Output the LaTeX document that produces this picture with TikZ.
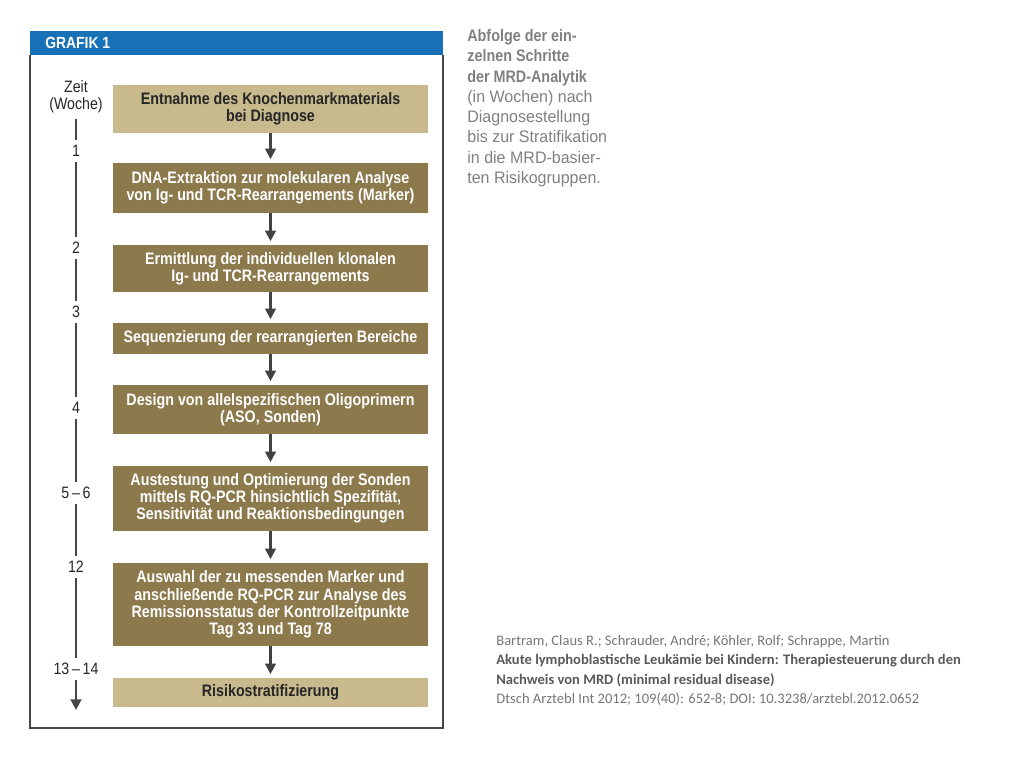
\documentclass[tikz,border=0pt]{standalone}
\usepackage{fontspec}
\setmainfont{Liberation Sans}
\newfontfamily\condfont[FakeStretch=0.86]{Liberation Sans}
\newfontfamily\legfont[FakeStretch=0.96]{Liberation Sans}
\newfontfamily\citefont{Carlito}
\usetikzlibrary{arrows.meta}
\definecolor{grafikblau}{RGB}{24,113,183}
\definecolor{hellbraun}{RGB}{200,186,140}
\definecolor{dunkelbraun}{RGB}{140,121,76}
\definecolor{pfeilgrau}{RGB}{66,66,66}
\definecolor{rahmengrau}{RGB}{70,70,70}
\definecolor{textgrau}{RGB}{128,128,128}
\definecolor{citegrau}{RGB}{118,118,118}

\begin{document}
\begin{tikzpicture}[x=0.02cm, y=-0.02cm, >={Triangle[length=6pt,width=6pt]},
  schritt/.style={fill=dunkelbraun, text=white, inner sep=0pt, align=center,
    minimum width=6.3cm, font=\condfont\bfseries\fontsize{9.45}{9.8}\selectfont},
  hellschritt/.style={schritt, fill=hellbraun, text=black!85},
  woche/.style={inner sep=1pt, outer sep=2pt, align=center,
    font=\condfont\fontsize{9.4}{9.8}\selectfont, text=black!85},
  pfeil/.style={->, line width=1.4pt, pfeilgrau, shorten >=2pt},
  zeitlinie/.style={line width=1.7pt, rahmengrau}]
  \useasboundingbox (0,0) rectangle (1024,768);
  % Rahmen mit Kopfzeile
  \fill[grafikblau] (30,31) rectangle (443,55);
  \draw[line width=0.9pt, rahmengrau] (30,55) -- (30,728) -- (443,728) -- (443,55);
  \node[anchor=west, inner sep=0pt, text=white,
    font=\condfont\bfseries\fontsize{9.2}{11}\selectfont] (titel) at (45,43) {GRAFIK 1};
  % Schritte
  \node[hellschritt, minimum height=0.96cm] (s1) at (270.5,109)
    {Entnahme des Knochenmarkmaterials\\bei Diagnose};
  \node[schritt, minimum height=1.0cm] (s2) at (270.5,188)
    {DNA-Extraktion zur molekularen Analyse\\von Ig- und TCR-Rearrangements (Marker)};
  \node[schritt, minimum height=0.94cm] (s3) at (270.5,268.5)
    {Ermittlung der individuellen klonalen\\Ig- und TCR-Rearrangements};
  \node[schritt, minimum height=0.62cm] (s4) at (270.5,338.5)
    {Sequenzierung der rearrangierten Bereiche};
  \node[schritt, minimum height=0.98cm] (s5) at (270.5,409.5)
    {Design von allelspezifischen Oligoprimern\\(ASO, Sonden)};
  \node[schritt, minimum height=1.3cm] (s6) at (270.5,498.5)
    {Austestung und Optimierung der Sonden\\mittels RQ-PCR hinsichtlich Spezifität,\\Sensitivität und Reaktionsbedingungen};
  \node[schritt, minimum height=1.66cm] (s7) at (270.5,604.5)
    {Auswahl der zu messenden Marker und\\anschließende RQ-PCR zur Analyse des\\Remissionsstatus der Kontrollzeitpunkte\\Tag 33 und Tag 78};
  \node[hellschritt, minimum height=0.58cm] (s8) at (270.5,692.5)
    {Risikostratifizierung};
  \foreach \a/\b in {s1/s2, s2/s3, s3/s4, s4/s5, s5/s6, s6/s7, s7/s8}
    \draw[pfeil] (\a) -- (\b);
  % Zeitachse
  \node[woche] (w0) at (76,97) {Zeit\\(Woche)};
  \node[woche] (w1) at (76,151) {1};
  \node[woche] (w2) at (76,248) {2};
  \node[woche] (w3) at (76,312) {3};
  \node[woche] (w4) at (76,408) {4};
  \node[woche] (w5) at (76,493) {5\,–\,6};
  \node[woche] (w6) at (76,567) {12};
  \node[woche] (w7) at (76,669) {13\,–\,14};
  \coordinate (wende) at (76,710);
  \foreach \a/\b in {w0/w1, w1/w2, w2/w3, w3/w4, w4/w5, w5/w6, w6/w7}
    \draw[zeitlinie] (\a) -- (\b);
  \draw[zeitlinie, ->] (w7) -- (wende);
  % Bildunterschrift
  \node[anchor=north west, inner sep=0pt, align=left, text=textgrau,
    font=\legfont\fontsize{9.5}{11.55}\selectfont] (legende) at (467,29)
    {{\condfont\bfseries Abfolge der ein-}\\{\condfont\bfseries zelnen Schritte}\\{\condfont\bfseries der MRD-Analytik}\\(in Wochen) nach\\Diagnosestellung\\bis zur Stratifikation\\in die MRD-basier-\\ten Risikogruppen.};
  % Quelle
  \node[anchor=north west, inner sep=0pt, align=left, text=citegrau,
    font=\citefont\fontsize{8.28}{11.1}\selectfont] (quelle) at (496,635)
    {Bartram, Claus R.; Schrauder, André; Köhler, Rolf; Schrappe, Martin\\
     \textcolor{black!65}{\textbf{Akute lymphoblastische Leukämie bei Kindern: Therapiesteuerung durch den}}\\
     \textcolor{black!65}{\textbf{Nachweis von MRD (minimal residual disease)}}\\
     Dtsch Arztebl Int 2012; 109(40): 652-8; DOI: 10.3238/arztebl.2012.0652};
\end{tikzpicture}
\end{document}
